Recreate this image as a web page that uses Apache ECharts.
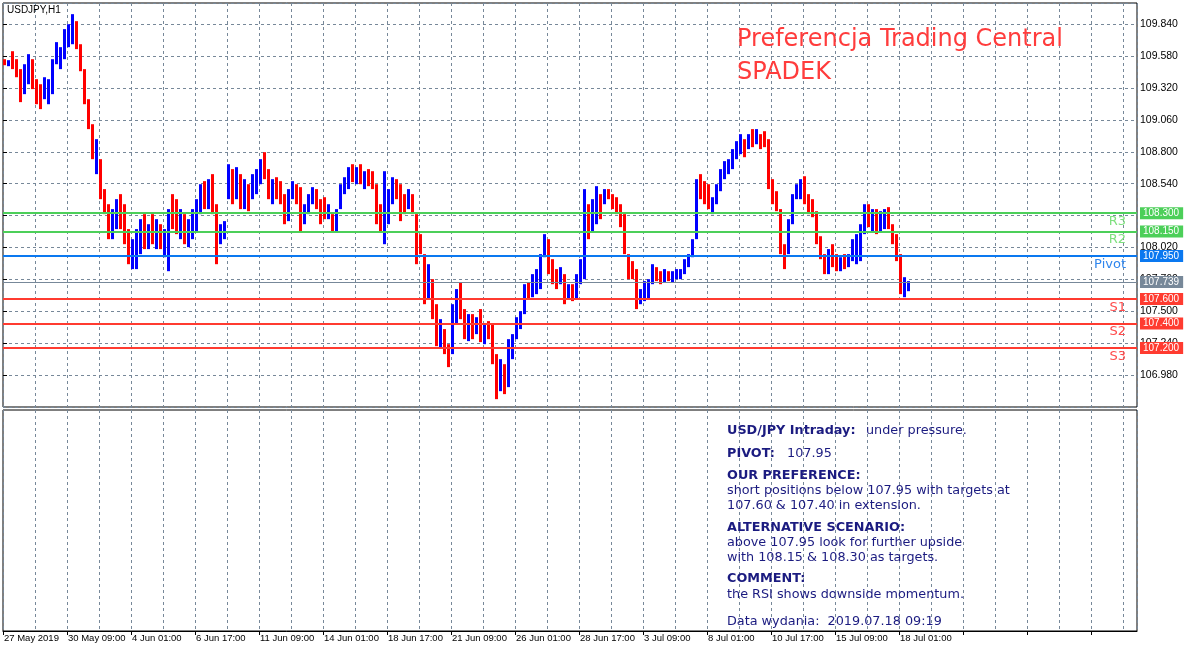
<!DOCTYPE html>
<html>
<head>
<meta charset="utf-8">
<script src="https://cdn.jsdelivr.net/npm/echarts@6/dist/echarts.min.js"></script>
<style>
html, body { margin: 0; padding: 0; background: #fff; }
#chart { width: 1190px; height: 652px; }
</style>
</head>
<body>
<div id="chart"></div>
<script>
var symbolName = 'USDJPY,H1';
var barHours = 4;
var firstOpen = 109.540;

var highs = [
    109.555, 109.547, 109.620, 109.555, 109.474, 109.514, 109.596, 109.555, 109.392, 109.351,
    109.408, 109.392, 109.555, 109.694, 109.653, 109.800, 109.840, 109.922, 109.865, 109.677,
    109.474, 109.229, 109.025, 108.903, 108.740, 108.496, 108.373, 108.333, 108.414, 108.455,
    108.373, 108.170, 108.088, 108.170, 108.251, 108.292, 108.210, 108.292, 108.251, 108.210,
    108.170, 108.333, 108.455, 108.414, 108.333, 108.292, 108.251, 108.333, 108.414, 108.536,
    108.561, 108.577, 108.618, 108.373, 108.210, 108.235, 108.699, 108.659, 108.675, 108.618,
    108.577, 108.536, 108.618, 108.659, 108.740, 108.797, 108.659, 108.577, 108.593, 108.561,
    108.455, 108.496, 108.561, 108.536, 108.512, 108.373, 108.455, 108.512, 108.496, 108.414,
    108.430, 108.373, 108.292, 108.333, 108.536, 108.593, 108.675, 108.699, 108.675, 108.699,
    108.642, 108.659, 108.642, 108.536, 108.373, 108.642, 108.496, 108.593, 108.577, 108.536,
    108.455, 108.496, 108.455, 108.292, 108.129, 107.966, 107.884, 107.762, 107.558, 107.436,
    107.355, 107.232, 107.558, 107.681, 107.738, 107.518, 107.477, 107.477, 107.452, 107.518,
    107.395, 107.420, 107.395, 107.151, 107.110, 107.069, 107.273, 107.314, 107.452, 107.501,
    107.721, 107.738, 107.803, 107.844, 107.966, 108.129, 108.088, 107.925, 107.844, 107.860,
    107.803, 107.721, 107.721, 107.803, 107.925, 108.496, 108.373, 108.414, 108.520, 108.455,
    108.496, 108.496, 108.455, 108.430, 108.373, 108.292, 107.966, 107.909, 107.844, 107.681,
    107.746, 107.762, 107.884, 107.860, 107.827, 107.844, 107.827, 107.827, 107.844, 107.844,
    107.925, 107.966, 108.088, 108.577, 108.618, 108.561, 108.536, 108.430, 108.536, 108.659,
    108.724, 108.740, 108.822, 108.887, 108.944, 108.903, 108.944, 108.985, 108.985, 108.944,
    108.968, 108.903, 108.577, 108.479, 108.333, 108.047, 108.251, 108.455, 108.536, 108.577,
    108.601, 108.455, 108.414, 108.316, 108.112, 107.966, 108.007, 108.047, 107.966, 107.941,
    107.966, 107.966, 108.088, 108.129, 108.210, 108.373, 108.373, 108.333, 108.333, 108.316,
    108.333, 108.349, 108.210, 108.129, 107.966, 107.778, 107.746
];

var lows = [
    109.506, 109.498, 109.474, 109.408, 109.205, 109.270, 109.351, 109.311, 109.188, 109.148,
    109.229, 109.188, 109.270, 109.514, 109.474, 109.555, 109.653, 109.677, 109.637, 109.457,
    109.188, 108.985, 108.740, 108.618, 108.414, 108.292, 108.088, 108.088, 108.170, 108.170,
    108.047, 107.884, 107.844, 107.844, 107.966, 108.007, 108.007, 108.047, 108.007, 108.007,
    107.941, 107.827, 108.170, 108.129, 108.088, 108.047, 108.023, 108.088, 108.153, 108.292,
    108.333, 108.333, 108.292, 107.884, 108.047, 108.088, 108.414, 108.373, 108.414, 108.333,
    108.333, 108.316, 108.414, 108.455, 108.536, 108.577, 108.414, 108.373, 108.414, 108.373,
    108.210, 108.235, 108.414, 108.373, 108.153, 108.210, 108.292, 108.373, 108.333, 108.210,
    108.251, 108.251, 108.153, 108.153, 108.333, 108.455, 108.496, 108.553, 108.536, 108.536,
    108.496, 108.520, 108.496, 108.210, 108.153, 108.047, 108.210, 108.373, 108.414, 108.235,
    108.292, 108.333, 108.292, 107.884, 107.966, 107.558, 107.599, 107.436, 107.216, 107.208,
    107.151, 107.045, 107.151, 107.395, 107.436, 107.273, 107.257, 107.273, 107.314, 107.249,
    107.232, 107.273, 107.069, 106.784, 106.849, 106.825, 106.882, 107.110, 107.273, 107.355,
    107.477, 107.599, 107.615, 107.640, 107.681, 107.941, 107.803, 107.721, 107.681, 107.721,
    107.558, 107.599, 107.583, 107.599, 107.721, 107.762, 108.088, 108.153, 108.210, 108.251,
    108.373, 108.414, 108.333, 108.292, 108.186, 107.966, 107.762, 107.762, 107.518, 107.558,
    107.583, 107.599, 107.721, 107.746, 107.721, 107.738, 107.746, 107.738, 107.762, 107.762,
    107.803, 107.860, 107.941, 108.088, 108.414, 108.373, 108.333, 108.292, 108.373, 108.479,
    108.577, 108.618, 108.659, 108.740, 108.781, 108.756, 108.822, 108.838, 108.862, 108.822,
    108.838, 108.496, 108.373, 108.316, 107.966, 107.844, 107.966, 108.210, 108.414, 108.414,
    108.373, 108.292, 108.267, 108.047, 107.925, 107.803, 107.803, 107.860, 107.827, 107.827,
    107.844, 107.860, 107.909, 107.884, 107.909, 108.129, 108.186, 108.153, 108.129, 108.153,
    108.170, 108.170, 108.047, 107.909, 107.640, 107.615, 107.664
];

var closes = [
    109.531, 109.539, 109.522, 109.457, 109.311, 109.474, 109.514, 109.351, 109.270, 109.229,
    109.351, 109.376, 109.539, 109.596, 109.637, 109.759, 109.800, 109.840, 109.677, 109.474,
    109.213, 109.025, 108.781, 108.822, 108.455, 108.373, 108.170, 108.292, 108.373, 108.210,
    108.129, 107.966, 108.007, 108.088, 108.170, 108.088, 108.170, 108.088, 108.210, 108.047,
    108.088, 108.292, 108.251, 108.170, 108.292, 108.088, 108.210, 108.292, 108.373, 108.496,
    108.414, 108.536, 108.333, 108.129, 108.170, 108.210, 108.618, 108.414, 108.577, 108.373,
    108.496, 108.455, 108.577, 108.618, 108.659, 108.618, 108.496, 108.536, 108.455, 108.414,
    108.292, 108.455, 108.496, 108.455, 108.292, 108.333, 108.414, 108.455, 108.373, 108.333,
    108.292, 108.316, 108.210, 108.292, 108.496, 108.536, 108.642, 108.593, 108.659, 108.577,
    108.618, 108.561, 108.512, 108.292, 108.235, 108.414, 108.455, 108.536, 108.455, 108.414,
    108.373, 108.430, 108.308, 108.047, 108.007, 107.721, 107.803, 107.518, 107.314, 107.355,
    107.192, 107.151, 107.518, 107.599, 107.477, 107.395, 107.436, 107.355, 107.420, 107.314,
    107.355, 107.314, 107.110, 106.906, 107.029, 106.988, 107.232, 107.289, 107.436, 107.477,
    107.681, 107.664, 107.762, 107.803, 107.925, 108.007, 107.844, 107.803, 107.762, 107.778,
    107.640, 107.681, 107.640, 107.762, 107.884, 108.333, 108.210, 108.373, 108.455, 108.414,
    108.455, 108.447, 108.373, 108.333, 108.210, 108.007, 107.844, 107.827, 107.640, 107.664,
    107.721, 107.721, 107.844, 107.803, 107.778, 107.803, 107.778, 107.803, 107.827, 107.827,
    107.909, 107.941, 108.072, 108.536, 108.496, 108.414, 108.373, 108.414, 108.512, 108.618,
    108.659, 108.699, 108.781, 108.822, 108.862, 108.822, 108.903, 108.862, 108.944, 108.903,
    108.862, 108.536, 108.455, 108.349, 108.007, 107.966, 108.210, 108.414, 108.496, 108.536,
    108.414, 108.373, 108.316, 108.088, 107.966, 107.884, 107.966, 107.909, 107.884, 107.925,
    107.884, 107.941, 108.047, 108.088, 108.186, 108.333, 108.251, 108.292, 108.210, 108.251,
    108.292, 108.210, 108.088, 107.941, 107.681, 107.721, 107.739
];

// one label every 64 hourly bars, starting at the left edge
var timeLabels = [
    '27 May 2019', '30 May 09:00', '4 Jun 01:00', '6 Jun 17:00', '11 Jun 09:00',
    '14 Jun 01:00', '18 Jun 17:00', '21 Jun 09:00', '26 Jun 01:00', '28 Jun 17:00',
    '3 Jul 09:00', '8 Jul 01:00', '10 Jul 17:00', '15 Jul 09:00', '18 Jul 01:00'
];
var labelStep = 64;

var levelNames = ['R3', 'R2', 'Pivot', 'S1', 'S2', 'S3'];
var levelValues = [108.30, 108.15, 107.95, 107.60, 107.40, 107.20];
var lastPrice = 107.739;

var priceMin = 106.72;
var priceMax = 110.013;
var priceStep = 0.26;
var hourSpan = 1134;

function levelColor(name) {
    if (name.charAt(0) === 'R') return '#4ccf59';
    if (name === 'Pivot') return '#0a78f0';
    return '#ff3b30';
}
function levelTextColor(name) {
    if (name.charAt(0) === 'R') return '#7fe07f';
    if (name === 'Pivot') return '#2f86ee';
    return '#ff4b4b';
}

var bars = [];
for (var i = 0; i < closes.length; i++) {
    var open = i === 0 ? firstOpen : closes[i - 1];
    bars.push([i * barHours, lows[i], highs[i], open, closes[i]]);
}

// each bar is a plain low-high stroke, 3px wide, blue up / red down
function renderBar(params, api) {
    var start = api.value(0);
    var p0 = api.coord([start, api.value(1)]);
    var p1 = api.coord([start + barHours - 1, api.value(2)]);
    var up = api.value(4) >= api.value(3);
    return {
        type: 'rect',
        shape: {
            x: p0[0],
            y: p1[1],
            width: p1[0] - p0[0],
            height: Math.max(p0[1] - p1[1], 1)
        },
        style: { fill: up ? '#0000ff' : '#ff0000' }
    };
}

var gridLine = { show: true, lineStyle: { color: '#778899', type: [3, 3], width: 1 } };
var smallFont = 'Liberation Sans';
var scaleFont = '"Liberation Sans Narrow", "Liberation Sans"';
var textBlue = '#1b1b80';

var levelLines = levelValues.map(function (v, k) {
    return {
        yAxis: v,
        lineStyle: { color: levelColor(levelNames[k]), width: 2, type: 'solid' },
        label: { formatter: levelNames[k], color: levelTextColor(levelNames[k]) }
    };
});
levelLines.push({
    yAxis: lastPrice,
    lineStyle: { color: '#778899', width: 1, type: 'solid' },
    label: { show: false }
});

var priceTags = levelValues.map(function (v, k) {
    return {
        yAxis: v,
        lineStyle: { color: levelColor(levelNames[k]), width: 2, type: 'solid' },
        label: { backgroundColor: levelColor(levelNames[k]) }
    };
});
priceTags.push({
    yAxis: lastPrice,
    lineStyle: { color: '#778899', width: 1, type: 'solid' },
    label: { backgroundColor: '#778899' }
});

function panelText(x, y, text, bold) {
    return {
        type: 'text',
        x: x,
        y: y,
        z: 10,
        style: {
            text: text,
            fill: textBlue,
            font: (bold ? 'bold ' : '') + '12.8px "DejaVu Sans"',
            align: 'left',
            verticalAlign: 'middle'
        }
    };
}

var chartDom = document.getElementById('chart');
var myChart = echarts.init(chartDom);
var option;

option = {
    animation: false,
    backgroundColor: '#fff',
    grid: [
        { left: 3, top: 3, width: hourSpan, height: 404, show: true, borderColor: '#000', borderWidth: 1 },
        { left: 3, top: 410, width: hourSpan, height: 221, show: true, borderColor: '#000', borderWidth: 1 }
    ],
    xAxis: [
        {
            gridIndex: 0, type: 'value', min: 0, max: hourSpan, interval: 32,
            axisLine: { show: false }, axisTick: { show: false }, axisLabel: { show: false },
            splitLine: gridLine
        },
        {
            gridIndex: 1, type: 'value', min: 0, max: hourSpan, interval: 32, position: 'bottom',
            axisLine: { show: false }, axisTick: { show: false }, axisLabel: { show: false },
            splitLine: gridLine
        },
        {
            gridIndex: 1, type: 'value', min: 0, max: hourSpan, interval: labelStep, position: 'bottom',
            axisLine: { show: true, lineStyle: { color: '#000' } },
            axisTick: { show: true, length: 4, lineStyle: { color: '#000' } },
            axisLabel: {
                show: true, align: 'left', margin: 2, fontSize: 9.5, color: '#000',
                fontFamily: smallFont, padding: [0, 0, 0, 1],
                showMaxLabel: false,
                formatter: function (v) {
                    var k = v / labelStep;
                    return (Number.isInteger(k) && timeLabels[k]) ? timeLabels[k] : '';
                }
            },
            splitLine: { show: false }
        }
    ],
    yAxis: [
        {
            gridIndex: 0, type: 'value', position: 'right',
            min: priceMin, max: priceMax, interval: priceStep,
            axisLine: { show: false },
            axisTick: { show: true, length: 4, lineStyle: { color: '#000' } },
            axisLabel: {
                showMinLabel: false, showMaxLabel: false, margin: 3, fontSize: 10.5,
                fontFamily: scaleFont, color: '#000',
                formatter: function (v) { return v.toFixed(3); }
            },
            splitLine: gridLine
        },
        { gridIndex: 1, type: 'value', min: 0, max: 1, show: false }
    ],
    series: [
        {
            type: 'custom',
            xAxisIndex: 0,
            yAxisIndex: 0,
            renderItem: renderBar,
            encode: { x: 0, y: [1, 2] },
            data: bars,
            clip: true,
            z: 2
        },
        {
            type: 'line',
            xAxisIndex: 0,
            yAxisIndex: 0,
            data: [],
            z: 5,
            markLine: {
                silent: true,
                symbol: ['none', 'none'],
                animation: false,
                precision: 3,
                label: {
                    position: 'insideEndBottom',
                    fontSize: 13,
                    fontFamily: 'DejaVu Sans',
                    distance: 2,
                    padding: [0, 9, 0, 0]
                },
                data: levelLines
            }
        },
        {
            type: 'line',
            xAxisIndex: 0,
            yAxisIndex: 0,
            data: [],
            clip: false,
            z: 6,
            markLine: {
                silent: true,
                symbol: ['none', 'none'],
                animation: false,
                precision: 3,
                label: {
                    show: true,
                    position: 'end',
                    distance: 3,
                    color: '#fff',
                    fontSize: 10,
                    fontFamily: scaleFont,
                    padding: [1, 4, 1, 3],
                    formatter: function (p) { return Number(p.value).toFixed(3); }
                },
                data: priceTags
            }
        }
    ],
    graphic: [
        {
            type: 'text', x: 7, y: 10, z: 10,
            style: { text: symbolName, fill: '#000', font: '10px "Liberation Sans"', verticalAlign: 'middle' }
        },
        {
            type: 'text', x: 737, y: 40, z: 10,
            style: { text: 'Preferencja Trading Central', fill: '#ff3c3c', font: '24px "DejaVu Sans"', verticalAlign: 'middle' }
        },
        {
            type: 'text', x: 737, y: 73, z: 10,
            style: { text: 'SPADEK', fill: '#ff3c3c', font: '24px "DejaVu Sans"', verticalAlign: 'middle' }
        },
        panelText(727, 431, 'USD/JPY Intraday:', true),
        panelText(866, 431, 'under pressure.', false),
        panelText(727, 454, 'PIVOT:', true),
        panelText(787, 454, '107.95', false),
        panelText(727, 476, 'OUR PREFERENCE:', true),
        panelText(727, 491, 'short positions below 107.95 with targets at', false),
        panelText(727, 506, '107.60 & 107.40 in extension.', false),
        panelText(727, 528, 'ALTERNATIVE SCENARIO:', true),
        panelText(727, 543, 'above 107.95 look for further upside', false),
        panelText(727, 558, 'with 108.15 & 108.30 as targets.', false),
        panelText(727, 579, 'COMMENT:', true),
        panelText(727, 595, 'the RSI shows downside momentum.', false),
        panelText(727, 622, 'Data wydania:  2019.07.18 09:19', false)
    ]
};

option && myChart.setOption(option);
</script>
</body>
</html>
